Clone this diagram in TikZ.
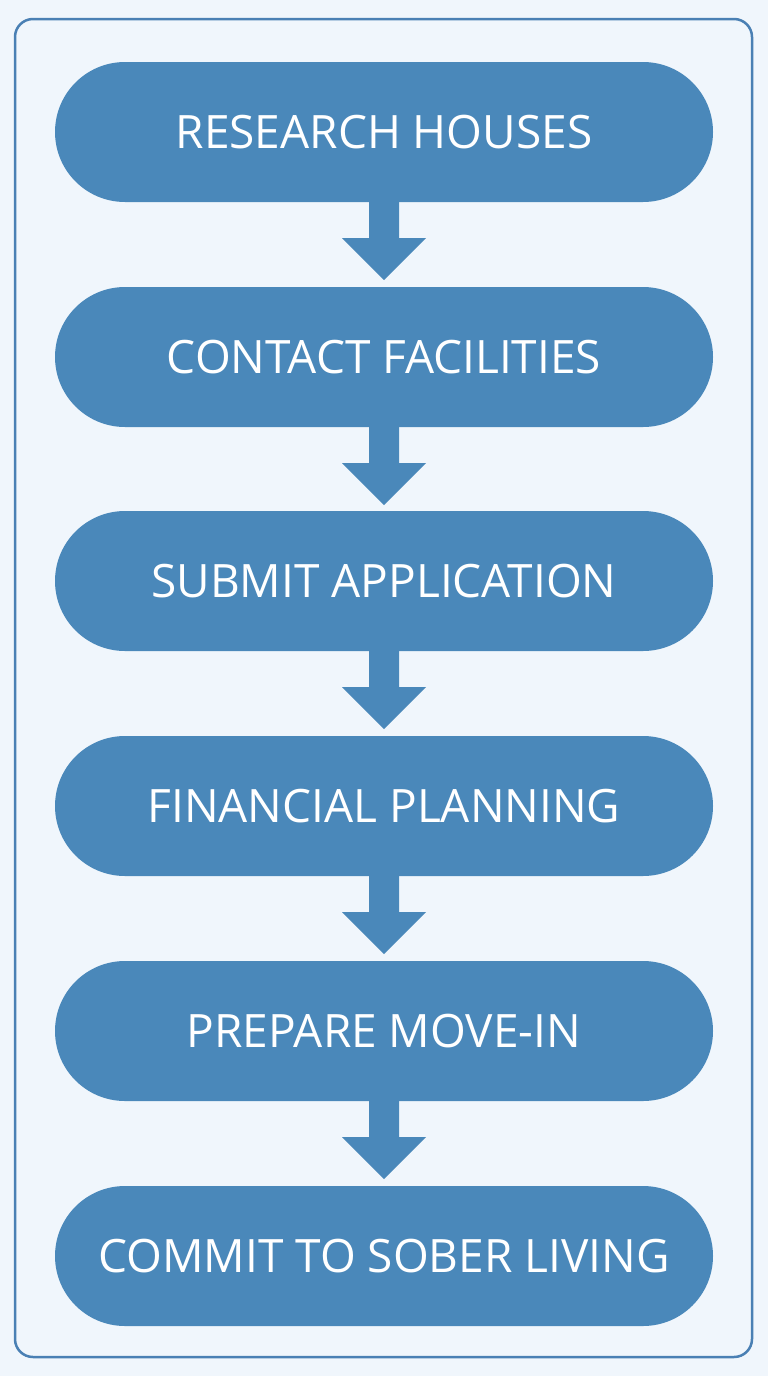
\documentclass[tikz,border=0pt]{standalone}
\usepackage{fontspec}
\setmainfont{Open Sans}
\usetikzlibrary{calc,shapes.misc}
\definecolor{bg}{HTML}{F0F6FC}
\definecolor{frame}{HTML}{4A80B4}
\definecolor{box}{HTML}{4A88BA}
\tikzset{
 stepbox/.style={rounded rectangle, fill=box, minimum width=658pt, minimum height=140pt, text=white, font=\fontsize{46}{50}\selectfont, inner sep=0pt},
}
\newcommand{\flowarrow}[2]{%
 \fill[box] ($(#1.south)+(-15,-1)$) -- ($(#1.south)+(-15,36)$) -- ($(#1.south)+(-42,36)$) -- (#2) -- ($(#1.south)+(42,36)$) -- ($(#1.south)+(15,36)$) -- ($(#1.south)+(15,-1)$) -- cycle;}
\begin{document}
\begin{tikzpicture}[x=1pt,y=-1pt]
\fill[bg] (0,0) rectangle (768,1376);
\useasboundingbox (0,0) rectangle (768,1376);
\draw[frame, line width=2.5pt, fill=bg, rounded corners=18pt] (15,19) rectangle (752,1357);
\node[stepbox] (a) at (384,132) {RESEARCH HOUSES};
\node[stepbox] (b) at (384,357) {CONTACT FACILITIES};
\node[stepbox] (c) at (384,581) {SUBMIT APPLICATION};
\node[stepbox] (d) at (384,806) {FINANCIAL PLANNING};
\node[stepbox] (e) at (384,1031) {PREPARE MOVE-IN};
\node[stepbox] (f) at (384,1256) {COMMIT TO SOBER LIVING};
\coordinate (t1) at (384,280);
\coordinate (t2) at (384,505);
\coordinate (t3) at (384,729);
\coordinate (t4) at (384,954);
\coordinate (t5) at (384,1179);
\flowarrow{a}{t1}
\flowarrow{b}{t2}
\flowarrow{c}{t3}
\flowarrow{d}{t4}
\flowarrow{e}{t5}
\end{tikzpicture}
\end{document}
